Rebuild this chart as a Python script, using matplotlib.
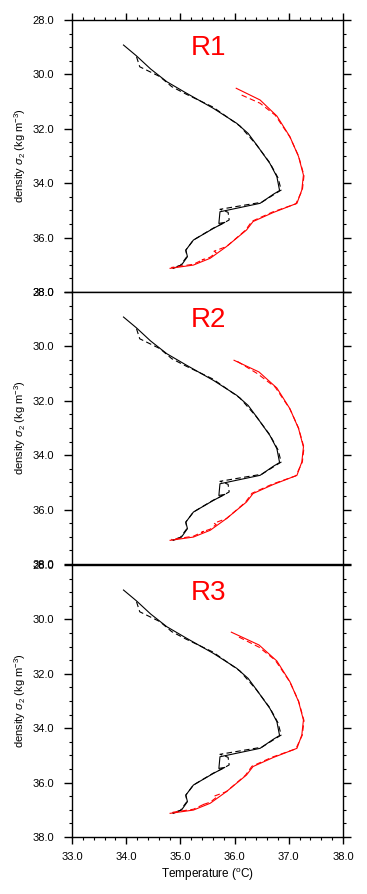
import numpy as np
import matplotlib
matplotlib.use('Agg')
import matplotlib.pyplot as plt
from matplotlib.ticker import MultipleLocator, FormatStrFormatter

plt.rcParams['font.family'] = ['Liberation Sans', 'DejaVu Sans']
plt.rcParams['mathtext.fontset'] = 'custom'
plt.rcParams['mathtext.rm'] = 'Liberation Sans'
plt.rcParams['mathtext.it'] = 'Liberation Sans:italic'

regions = ['R1', 'R2', 'R3']

# black profiles (same for all regions)
t_black = [33.95, 34.19, 34.45, 34.75, 35.12, 35.61, 36.04, 36.25, 36.41, 36.65, 36.78, 36.83,
           36.72, 36.47, 35.73, 35.71, 35.82, 35.61, 35.24, 35.10, 35.13, 35.02, 34.87]
d_black = [28.92, 29.32, 29.80, 30.27, 30.70, 31.25, 31.80, 32.17, 32.60, 33.27, 33.76, 34.27,
           34.40, 34.74, 35.05, 35.48, 35.44, 35.66, 36.09, 36.46, 36.70, 37.01, 37.13]

t_black_d = [34.19, 34.25, 34.62, 34.84, 35.10, 35.60, 36.10, 36.40, 36.65, 36.80, 36.86,
             36.50, 35.73, 35.88, 35.90, 35.82, 35.60, 35.24, 35.10, 35.12, 35.00, 34.85]
d_black_d = [29.35, 29.72, 30.08, 30.45, 30.72, 31.20, 31.90, 32.58, 33.25, 33.80, 34.25,
             34.70, 34.96, 35.07, 35.35, 35.44, 35.66, 36.09, 36.46, 36.70, 37.02, 37.12]

# red profiles: first two points differ per region, rest shared
t_red_head = {'R1': [36.03, 36.47], 'R2': [35.99, 36.45], 'R3': [35.94, 36.45]}
d_red_head = {'R1': [30.51, 30.94], 'R2': [30.51, 30.94], 'R3': [30.47, 30.94]}
t_red = [36.78, 37.02, 37.18, 37.27, 37.24, 37.15, 36.71, 36.34, 36.22, 35.85, 35.55, 35.24, 34.81]
d_red = [31.53, 32.29, 33.02, 33.70, 34.25, 34.74, 35.08, 35.41, 35.72, 36.33, 36.76, 37.01, 37.13]

t_red_d_head = {'R1': [36.13, 36.47], 'R2': [36.05, 36.42], 'R3': [36.08, 36.45]}
d_red_d_head = {'R1': [30.76, 31.06], 'R2': [30.55, 31.00], 'R3': [30.65, 31.02]}
t_red_d = [36.75, 37.02, 37.18, 37.28, 37.25, 37.13, 36.70, 36.32, 36.20, 35.85, 35.62,
           35.66, 35.55, 35.40, 35.43, 35.24, 34.83]
d_red_d = [31.50, 32.30, 33.00, 33.72, 34.25, 34.76, 35.06, 35.40, 35.73, 36.33, 36.50,
           36.55, 36.72, 36.82, 36.80, 36.98, 37.10]

fig = plt.figure(figsize=(3.67, 8.94), dpi=100)
left, width = 72 / 367, 271 / 367
tops = [20, 292, 565]
h = 272

for i, r in enumerate(regions):
    ax = fig.add_axes([left, 1 - (tops[i] + h) / 894, width, h / 894])
    ax.plot(t_black, d_black, color='black', lw=0.8)
    ax.plot(t_black_d, d_black_d, color='black', lw=0.8, ls=(0, (5, 3)))
    ax.plot(t_red_head[r] + t_red, d_red_head[r] + d_red, color='red', lw=0.8)
    ax.plot(t_red_d_head[r] + t_red_d, d_red_d_head[r] + d_red_d, color='red', lw=0.8,
            ls=(0, (5, 3)))
    ax.text(35.51, 29.03, r, color='red', fontsize=20, ha='center', va='center')

    ax.set_xlim(33, 38)
    ax.set_ylim(38, 28)
    ax.yaxis.set_major_locator(MultipleLocator(2))
    ax.yaxis.set_minor_locator(MultipleLocator(0.5))
    ax.xaxis.set_major_locator(MultipleLocator(1))
    ax.xaxis.set_minor_locator(MultipleLocator(0.2))
    ax.yaxis.set_major_formatter(FormatStrFormatter('%.1f'))
    ax.xaxis.set_major_formatter(FormatStrFormatter('%.1f'))
    ax.tick_params(axis='y', which='major', direction='out', length=5.8, width=1,
                   left=True, right=True, labelsize=8, pad=7)
    ax.tick_params(axis='y', which='minor', direction='out', length=2.5, width=0.8,
                   left=True, right=True)
    top_on = (i == 0)
    bot_on = (i == 2)
    ax.tick_params(axis='x', which='major', direction='out', length=5, width=1,
                   top=top_on, bottom=bot_on, labelbottom=bot_on, labelsize=8, pad=6)
    ax.tick_params(axis='x', which='minor', direction='out', length=2.5, width=0.8,
                   top=top_on, bottom=bot_on)
    for s in ax.spines.values():
        s.set_linewidth(1.0)
    ax.set_ylabel(r'density $\sigma_2$ (kg m$^{-3}$)', fontsize=8, labelpad=3)
    if bot_on:
        ax.set_xlabel(r'Temperature ($^{\rm o}$C)', fontsize=8.5, labelpad=3)

fig.savefig('out.png', dpi=100)
